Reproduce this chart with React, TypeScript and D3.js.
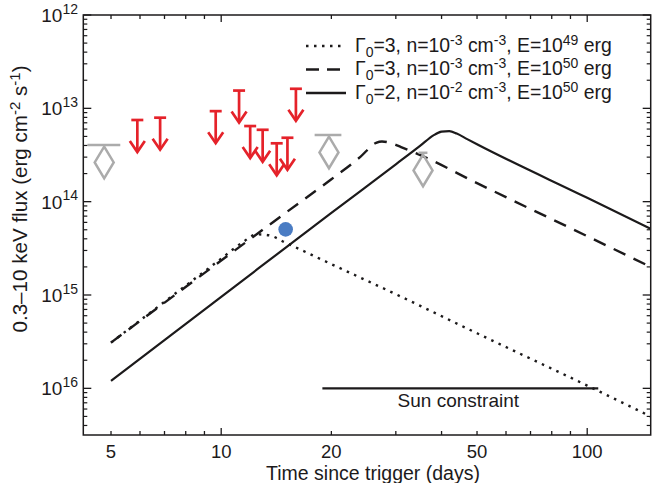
import React from "react";
import * as d3 from "d3";

const FONT = "'Liberation Sans', Arial, Helvetica, sans-serif";
const BLACK = "#1c1a1b";
const RED = "#e5222a";
const GREY = "#ababab";
const BLUE = "#4a7cc3";

// Axis domains
const xDomain = [4.2, 149.1];
const yDomain = [Math.pow(10, -16.5), 1e-12];

// Tick values
const xTickValues = [5, 6, 7, 8, 9, 10, 20, 30, 40, 50, 60, 70, 80, 90, 100];
const xMajorTicks = [10, 100];
const xTickLabels = [5, 10, 20, 50, 100];
const yMajorTicks = [1e-12, 1e-13, 1e-14, 1e-15, 1e-16];

// Model: Γ0=3, n=1e-3, E=1e49 (dotted)
const dottedT = [5, 8, 10, 11.5, 12.5, 13.5, 15, 20, 30, 50, 100, 149];
const dottedFlux = [3.09e-16, 1.26e-15, 2.45e-15, 3.72e-15, 4.47e-15, 4.37e-15, 3.63e-15, 2.14e-15, 1.02e-15, 3.89e-16, 1.07e-16, 5.0e-17];

// Model: Γ0=3, n=1e-3, E=1e50 (dashed)
const dashedT = [5, 10, 15, 20, 24, 26.5, 27.5, 29, 31, 35, 50, 100, 149];
const dashedFlux = [3.09e-16, 2.34e-15, 7.59e-15, 1.74e-14, 3.02e-14, 4.27e-14, 4.42e-14, 4.27e-14, 3.85e-14, 3.16e-14, 1.58e-14, 4.27e-15, 2.0e-15];

// Model: Γ0=2, n=1e-2, E=1e50 (solid)
const solidT = [5, 10, 20, 30, 35, 38, 40, 42, 44, 47, 50, 100, 149];
const solidFlux = [1.2e-16, 9.55e-16, 7.59e-15, 2.51e-14, 3.98e-14, 5.13e-14, 5.62e-14, 5.69e-14, 5.37e-14, 4.68e-14, 4.12e-14, 1.1e-14, 5.13e-15];

// Upper limits (red arrows)
const limitT = [5.9, 6.81, 9.66, 11.19, 12.0, 12.98, 14.18, 15.17, 16.0];
const limitFlux = [7.5e-14, 7.94e-14, 9.33e-14, 1.55e-13, 6.46e-14, 5.89e-14, 4.22e-14, 4.84e-14, 1.62e-13];

// Grey diamonds with bars
const greyT = [4.79, 19.7, 35.6];
const greyFlux = [2.63e-14, 3.37e-14, 2.16e-14];
const greyBarT0 = [4.31, 18.0, 34.6];
const greyBarT1 = [5.3, 21.3, 36.6];
const greyBarFlux = [4.05e-14, 5.18e-14, 3.34e-14];

// Detection (blue dot)
const detT = [15.0];
const detFlux = [5.05e-15];

// Sun constraint
const sunT = [18.9, 107.2];
const sunFlux = 1e-16;

const legendItems = [
  { dash: "2.5 5.5", g: "3", n: "-3", e: "49" },
  { dash: "13 8", g: "3", n: "-3", e: "50" },
  { dash: "none", g: "2", n: "-2", e: "50" },
];

export default function App() {
  const L = 83.3, R = 650.7, T = 15, B = 435;
  const x = d3.scaleLog().domain(xDomain).range([L, R]);
  const y = d3.scaleLog().domain(yDomain).range([B, T]);
  const line = d3
    .line<[number, number]>()
    .x((d) => x(d[0]))
    .y((d) => y(d[1]))
    .curve(d3.curveMonotoneX);

  const zip = (a: number[], b: number[]) => a.map((v, i) => [v, b[i]] as [number, number]);

  const yMinor: number[] = [];
  for (let n = -17; n <= -13; n++) {
    for (let k = 2; k <= 9; k++) {
      const v = k * Math.pow(10, n);
      if (v >= yDomain[0] && v <= yDomain[1]) yMinor.push(v);
    }
  }

  const fs = 19;
  const sup = 14;

  return (
    <div style={{ position: "absolute", left: 0, top: 0 }}>
      <svg width={658} height={483} style={{ display: "block", background: "#fff" }} fontFamily={FONT}>
        <defs>
          <clipPath id="plot">
            <rect x={L} y={T} width={R - L} height={B - T} />
          </clipPath>
        </defs>

        {/* curves */}
        <g clipPath="url(#plot)" fill="none" stroke={BLACK}>
          <path d={line(zip(dottedT, dottedFlux)) || ""} strokeWidth={2.4} strokeDasharray="2.5 5.5" />
          <path d={line(zip(dashedT, dashedFlux)) || ""} strokeWidth={2.4} strokeDasharray="13 9" />
          <path d={line(zip(solidT, solidFlux)) || ""} strokeWidth={2.2} />
        </g>

        {/* grey diamonds */}
        {greyT.map((t, i) => {
          const cx = x(t), cy = y(greyFlux[i]);
          return (
            <g key={"g" + i} stroke={GREY} strokeWidth={2.5} fill="none">
              <line x1={x(greyBarT0[i])} x2={x(greyBarT1[i])} y1={y(greyBarFlux[i])} y2={y(greyBarFlux[i])} />
              <path d={`M${cx},${cy - 15.8}L${cx + 9.5},${cy}L${cx},${cy + 15.8}L${cx - 9.5},${cy}Z`} />
            </g>
          );
        })}

        {/* red upper limits */}
        {limitT.map((t, i) => {
          const cx = x(t), cy = y(limitFlux[i]);
          return (
            <g key={"r" + i} stroke={RED} strokeWidth={2.7} fill="none">
              <line x1={cx - 6} x2={cx + 6} y1={cy} y2={cy} />
              <line x1={cx} x2={cx} y1={cy} y2={cy + 31} />
              <polyline points={`${cx - 7.5},${cy + 21} ${cx},${cy + 32} ${cx + 7.5},${cy + 21}`} />
            </g>
          );
        })}

        {/* blue detection */}
        {detT.map((t, i) => (
          <circle key={"b" + i} cx={x(t)} cy={y(detFlux[i])} r={7.3} fill={BLUE} />
        ))}

        {/* sun constraint */}
        <line x1={x(sunT[0])} x2={x(sunT[1])} y1={y(sunFlux)} y2={y(sunFlux)} stroke={BLACK} strokeWidth={2.3} />
        <text x={(x(sunT[0]) + x(sunT[1])) / 2 - 2} y={y(sunFlux) + 19} textAnchor="middle" fontSize={fs} fill={BLACK}>
          Sun constraint
        </text>

        {/* frame */}
        <rect x={L} y={T} width={R - L} height={B - T} fill="none" stroke={BLACK} strokeWidth={1.5} />

        {/* x ticks */}
        {xTickValues.map((v) => {
          const len = xMajorTicks.includes(v) ? 7 : 4;
          return (
            <g key={"xt" + v} stroke={BLACK} strokeWidth={1.3}>
              <line x1={x(v)} x2={x(v)} y1={B} y2={B - len} />
              <line x1={x(v)} x2={x(v)} y1={T} y2={T + len} />
            </g>
          );
        })}
        {xTickLabels.map((v) => (
          <text key={"xl" + v} x={x(v)} y={B + 22.5} textAnchor="middle" fontSize={18.5} fill={BLACK}>
            {v}
          </text>
        ))}

        {/* y ticks */}
        {yMajorTicks.map((v) => (
          <g key={"ytM" + v} stroke={BLACK} strokeWidth={1.3}>
            <line x1={L} x2={L + 8} y1={y(v)} y2={y(v)} />
            <line x1={R} x2={R - 8} y1={y(v)} y2={y(v)} />
          </g>
        ))}
        {yMinor.map((v) => (
          <g key={"ytm" + v} stroke={BLACK} strokeWidth={1.2}>
            <line x1={L} x2={L + 4} y1={y(v)} y2={y(v)} />
            <line x1={R} x2={R - 4} y1={y(v)} y2={y(v)} />
          </g>
        ))}
        {yMajorTicks.map((v) => (
          <text key={"yl" + v} x={78} y={y(v) + 7} textAnchor="end" fontSize={fs} fill={BLACK}>
            <tspan>10</tspan>
            <tspan dy={-8.5} fontSize={sup}>
              {Math.round(-Math.log10(v))}
            </tspan>
          </text>
        ))}

        {/* axis titles */}
        <text x={373} y={479.5} textAnchor="middle" fontSize={19.5} fill={BLACK}>
          Time since trigger (days)
        </text>
        <text transform="translate(27,199) rotate(-90)" textAnchor="middle" fontSize={20.6} fill={BLACK}>
          <tspan>0.3–10 keV flux (erg cm</tspan>
          <tspan dy={-7.5} fontSize={15}>-2</tspan>
          <tspan dy={7.5}> s</tspan>
          <tspan dy={-7.5} fontSize={15}>-1</tspan>
          <tspan dy={7.5}>)</tspan>
        </text>

        {/* legend */}
        {legendItems.map((it, i) => {
          const ly = 46 + i * 23.5;
          return (
            <g key={"lg" + i}>
              <line
                x1={306}
                x2={346}
                y1={ly}
                y2={ly}
                stroke={BLACK}
                strokeWidth={2.4}
                strokeDasharray={it.dash === "none" ? undefined : it.dash}
              />
              <text x={355} y={ly + 5.5} fontSize={19.4} fill={BLACK}>
                <tspan>Γ</tspan>
                <tspan dy={5} fontSize={sup}>0</tspan>
                <tspan dy={-5}>={it.g}, n=10</tspan>
                <tspan dy={-7} fontSize={sup}>{it.n}</tspan>
                <tspan dy={7}> cm</tspan>
                <tspan dy={-7} fontSize={sup}>-3</tspan>
                <tspan dy={7}>, E=10</tspan>
                <tspan dy={-7} fontSize={sup}>{it.e}</tspan>
                <tspan dy={7}> erg</tspan>
              </text>
            </g>
          );
        })}
      </svg>
    </div>
  );
}
